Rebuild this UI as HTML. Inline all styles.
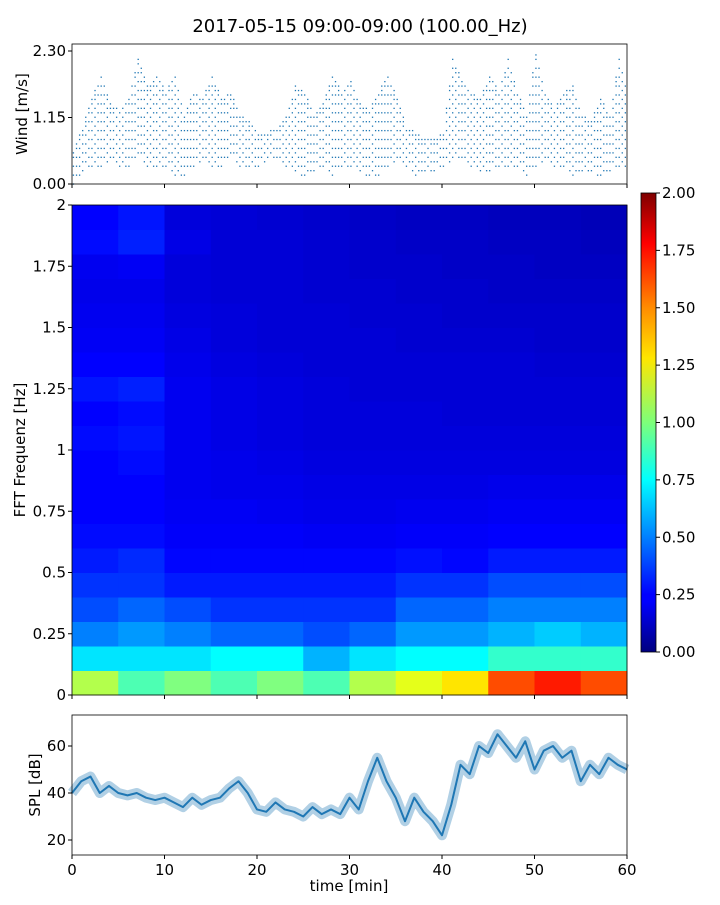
<!DOCTYPE html>
<html><head><meta charset="utf-8"><style>
body{margin:0;background:#fff;font-family:"Liberation Sans","DejaVu Sans",sans-serif}
svg text{font-family:"DejaVu Sans","Liberation Sans",sans-serif;fill:#000}
</style></head><body>
<svg id="fig" width="720" height="900" xmlns="http://www.w3.org/2000/svg">
<defs><linearGradient id="jet" x1="0" y1="1" x2="0" y2="0">
<stop offset="0" stop-color="#00007f"/><stop offset="0.11" stop-color="#0000ff"/><stop offset="0.125" stop-color="#0000ff"/><stop offset="0.34" stop-color="#00dbff"/><stop offset="0.375" stop-color="#00ffff"/><stop offset="0.5" stop-color="#7dff7a"/><stop offset="0.64" stop-color="#ffe600"/><stop offset="0.75" stop-color="#ff8c00"/><stop offset="0.89" stop-color="#ff0000"/><stop offset="1" stop-color="#7f0000"/></linearGradient></defs>
<text x="360" y="32" font-size="18" text-anchor="middle">2017-05-15 09:00-09:00 (100.00_Hz)</text>
<g id="wind"></g>
<g id="spec"></g>
<g id="cbar"></g>
<g id="spl"></g>
</svg>
<script>
const windMax=[0.6,1.0,1.5,1.9,1.4,1.3,1.5,2.2,1.7,1.9,1.6,1.9,1.2,1.6,1.5,1.9,1.5,1.6,1.2,1.1,0.9,0.9,1.0,1.2,1.7,1.6,1.2,1.4,1.9,1.6,1.8,1.4,1.3,1.6,1.9,1.5,1.0,0.9,0.8,0.8,0.9,2.2,1.8,1.6,1.5,1.9,1.6,2.2,1.6,1.2,2.3,1.6,1.3,1.6,1.7,1.2,1.1,1.5,1.2,2.2,1.5];
const windMin=[0.0,0.2,0.3,0.3,0.4,0.3,0.3,0.5,0.3,0.3,0.3,0.1,0.1,0.3,0.4,0.3,0.3,0.5,0.3,0.3,0.3,0.4,0.4,0.3,0.2,0.1,0.2,0.3,0.1,0.3,0.3,0.2,0.1,0.1,0.3,0.4,0.3,0.1,0.2,0.2,0.3,0.4,0.4,0.3,0.2,0.2,0.3,0.3,0.3,0.1,0.3,0.4,0.3,0.3,0.1,0.2,0.2,0.1,0.2,0.3,0.3];
const windTicks=[0,1.15,2.30];
const splVals=[40,45,47,40,43,40,39,40,38,37,38,36,34,38,35,37,38,42,45,40,33,32,36,33,32,30,34,31,33,31,38,33,45,55,45,38,28,38,32,28,22,35,52,48,60,57,65,60,55,62,50,58,60,55,58,45,52,48,55,52,50];
const splTicks=[20,40,60];
const timeTicks=[0,10,20,30,40,50,60];
const specRows=[
[1.1,0.9,1.0,0.9,1.0,0.9,1.1,1.2,1.3,1.6,1.7,1.6],
[0.7,0.7,0.7,0.75,0.75,0.6,0.7,0.75,0.75,0.85,0.85,0.85],
[0.5,0.55,0.5,0.45,0.45,0.4,0.45,0.55,0.55,0.6,0.65,0.6],
[0.4,0.45,0.4,0.35,0.35,0.35,0.35,0.45,0.45,0.5,0.5,0.5],
[0.35,0.35,0.3,0.3,0.3,0.3,0.3,0.35,0.35,0.4,0.4,0.4],
[0.3,0.33,0.26,0.26,0.26,0.26,0.26,0.28,0.26,0.3,0.3,0.3],
[0.27,0.27,0.24,0.24,0.24,0.23,0.23,0.24,0.24,0.25,0.25,0.25],
[0.25,0.25,0.23,0.23,0.22,0.21,0.21,0.22,0.22,0.23,0.23,0.23],
[0.25,0.25,0.22,0.21,0.21,0.2,0.2,0.2,0.2,0.21,0.21,0.21],
[0.25,0.27,0.22,0.21,0.2,0.19,0.19,0.19,0.19,0.19,0.19,0.19],
[0.27,0.29,0.22,0.2,0.19,0.18,0.18,0.18,0.18,0.18,0.18,0.18],
[0.25,0.27,0.22,0.2,0.19,0.18,0.18,0.18,0.17,0.17,0.17,0.17],
[0.29,0.31,0.22,0.2,0.19,0.18,0.17,0.17,0.17,0.17,0.17,0.17],
[0.25,0.25,0.21,0.19,0.18,0.17,0.17,0.17,0.17,0.17,0.16,0.16],
[0.23,0.23,0.2,0.18,0.17,0.17,0.17,0.16,0.16,0.16,0.15,0.15],
[0.22,0.22,0.19,0.18,0.17,0.17,0.16,0.16,0.15,0.15,0.15,0.15],
[0.21,0.21,0.18,0.17,0.17,0.16,0.16,0.15,0.15,0.14,0.14,0.14],
[0.22,0.23,0.18,0.17,0.17,0.16,0.15,0.15,0.14,0.14,0.13,0.13],
[0.27,0.31,0.2,0.17,0.17,0.16,0.15,0.14,0.14,0.13,0.13,0.12],
[0.25,0.29,0.18,0.17,0.16,0.15,0.14,0.13,0.13,0.12,0.12,0.11]];
const specTicks=["0","0.25","0.5","0.75","1","1.25","1.5","1.75","2"];
const cbTicks=[0,0.25,0.5,0.75,1,1.25,1.5,1.75,2];
const NS="http://www.w3.org/2000/svg";
function mk(p,t,a){const e=document.createElementNS(NS,t);for(const k in a)e.setAttribute(k,a[k]);p.appendChild(e);return e;}
const X0=72,X1=627;
const xT=m=>X0+(X1-X0)*m/60;
function jet(v){v=Math.max(0,Math.min(1,v/2));const c=x=>Math.round(255*Math.max(0,Math.min(1,1.5-Math.abs(4*v-x))));return `rgb(${c(3)},${c(2)},${c(1)})`;}
// wind
const W=document.getElementById('wind');
const yW=v=>184-(184-51)*v/2.3;
for(let m=0;m<60;m++){for(let s=0;s<3;s++){const t=m+s/3+0.15;const f=s/3;const mx=windMax[m]*(1-f)+windMax[m+1]*f,mn=windMin[m]*(1-f)+windMin[m+1]*f;let k=0;for(let v=Math.ceil(mn/0.077)*0.077;v<=mx;v+=0.077){k++;if((k+s)%2===0&&v<mx-0.1)continue;const d=mk(W,'rect',{x:xT(t)-0.6,y:yW(v)-0.6,width:1.3,height:1.3,fill:'#1f77b4'});

}}}
mk(W,'rect',{x:X0,y:44,width:X1-X0,height:140,fill:'none',stroke:'#000','stroke-width':0.8});
windTicks.forEach(v=>{mk(W,'line',{x1:X0-4,x2:X0,y1:yW(v),y2:yW(v),stroke:'#000'});const t=mk(W,'text',{x:X0-6,y:yW(v)+5,'font-size':15,'text-anchor':'end'});t.textContent=v.toFixed(2);});
timeTicks.forEach(v=>mk(W,'line',{x1:xT(v),x2:xT(v),y1:184,y2:188,stroke:'#000'}));
const wl=mk(W,'text',{x:27,y:114,'font-size':15,'text-anchor':'middle',transform:'rotate(-90 27 114)'});wl.textContent='Wind [m/s]';
// spectrogram
const S=document.getElementById('spec');
const yS=f=>695-490*f/2;
specRows.forEach((row,r)=>row.forEach((v,c)=>{const d=mk(S,'rect',{x:xT(c*5),y:yS((r+1)*0.1),width:xT(5)-X0+0.5,height:yS(0)-yS(0.1)+0.5,fill:jet(v)});

}));
mk(S,'rect',{x:X0,y:205,width:X1-X0,height:490,fill:'none',stroke:'#000','stroke-width':0.8});
specTicks.forEach((l,i)=>{const y=yS(i*0.25);mk(S,'line',{x1:X0-4,x2:X0,y1:y,y2:y,stroke:'#000'});const t=mk(S,'text',{x:X0-6,y:y+5,'font-size':15,'text-anchor':'end'});t.textContent=l;});
timeTicks.forEach(v=>mk(S,'line',{x1:xT(v),x2:xT(v),y1:695,y2:699,stroke:'#000'}));
const sl=mk(S,'text',{x:25,y:450,'font-size':15,'text-anchor':'middle',transform:'rotate(-90 25 450)'});sl.textContent='FFT Frequenz [Hz]';
// colorbar
const C=document.getElementById('cbar');
mk(C,'rect',{x:641,y:193,width:15,height:459,fill:'url(#jet)',stroke:'#000','stroke-width':0.8});
cbTicks.forEach(v=>{const y=652-459*v/2;mk(C,'line',{x1:656,x2:660,y1:y,y2:y,stroke:'#000'});const t=mk(C,'text',{x:662,y:y+5,'font-size':15});t.textContent=v.toFixed(2);});
// spl
const P=document.getElementById('spl');
const yP=v=>793-(v-40)*47/20;
let pts=splVals.map((v,i)=>xT(i)+','+yP(v)).join(' ');
const band=mk(P,'polyline',{points:pts,fill:'none',stroke:'#1f77b4','stroke-width':10,'stroke-opacity':0.35,'stroke-linejoin':'round'});


const ln=mk(P,'polyline',{points:pts,fill:'none',stroke:'#1f77b4','stroke-width':2,'stroke-linejoin':'round'});


mk(P,'rect',{x:X0,y:715,width:X1-X0,height:140,fill:'none',stroke:'#000','stroke-width':0.8});
splTicks.forEach(v=>{mk(P,'line',{x1:X0-4,x2:X0,y1:yP(v),y2:yP(v),stroke:'#000'});const t=mk(P,'text',{x:X0-6,y:yP(v)+5,'font-size':15,'text-anchor':'end'});t.textContent=v;});
timeTicks.forEach(v=>{mk(P,'line',{x1:xT(v),x2:xT(v),y1:855,y2:859,stroke:'#000'});const t=mk(P,'text',{x:xT(v),y:875,'font-size':15,'text-anchor':'middle'});t.textContent=v;});
const pl=mk(P,'text',{x:40,y:785,'font-size':15,'text-anchor':'middle',transform:'rotate(-90 40 785)'});pl.textContent='SPL [dB]';
const xl=mk(P,'text',{x:349,y:891,'font-size':15,'text-anchor':'middle'});xl.textContent='time [min]';
</script>
</body></html>
